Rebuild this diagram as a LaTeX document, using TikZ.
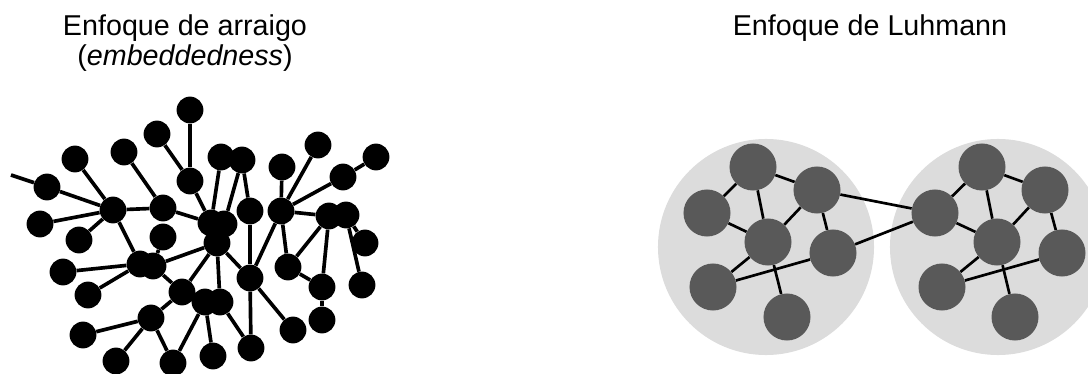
\documentclass[tikz,border=0pt]{standalone}
\usepackage{fontspec}
\setmainfont{Liberation Sans}
\usetikzlibrary{positioning}
\definecolor{luhgray}{HTML}{595959}
\definecolor{haze}{HTML}{DCDCDC}

\begin{document}
\begin{tikzpicture}[
    x=0.025cm, y=-0.025cm,
    dot/.style={circle, fill=black, inner sep=0pt, minimum size=0.67cm},
    blob/.style={circle, fill=luhgray, inner sep=0pt, minimum size=1.175cm},
    system/.style={circle, fill=haze, inner sep=0pt, minimum size=5.4cm},
    tie/.style={line width=2.6pt},
    bond/.style={line width=1.9pt},
    title/.style={font=\fontsize{20.4}{22}\selectfont, anchor=base}
]
\useasboundingbox (0,0) rectangle (1088,374);
\clip (0,0) rectangle (1088,374);

% titles
\node[title] (tarraigo) at (185,36) {Enfoque de arraigo};
\node[title] (tembed) at (185,66) {(\textit{embeddedness})};
\node[title] (tluhmann) at (870,36) {Enfoque de Luhmann};

% embeddedness network
\coordinate (estub) at (11,175);
\node[dot] (e1) at (190,110) {};
\node[dot] (e2) at (157,134) {};
\node[dot] (e3) at (75,159) {};
\node[dot] (e4) at (124,152) {};
\node[dot] (e5) at (47,187) {};
\node[dot] (e6) at (113,210) {};
\node[dot] (e7) at (40,224) {};
\node[dot] (e8) at (190,181) {};
\node[dot] (e9) at (163,208) {};
\node[dot] (e10a) at (221,157) {};
\node[dot] (e10b) at (242,160) {};
\node[dot] (e11) at (250,211) {};
\node[dot] (e12a) at (211,223) {};
\node[dot] (e12b) at (224,224) {};
\node[dot] (e12c) at (217,243) {};
\node[dot] (e13) at (282,167) {};
\node[dot] (e14) at (318,145) {};
\node[dot] (e15) at (376,157) {};
\node[dot] (e16) at (343,177) {};
\node[dot] (e17) at (281,211) {};
\node[dot] (e18a) at (329,216) {};
\node[dot] (e18b) at (346,215) {};
\node[dot] (e20) at (365,243) {};
\node[dot] (e21) at (288,267) {};
\node[dot] (e22) at (322,287) {};
\node[dot] (e23) at (362,285) {};
\node[dot] (e24) at (322,320) {};
\node[dot] (e25) at (293,330) {};
\node[dot] (e26) at (250,278) {};
\node[dot] (e27) at (251,348) {};
\node[dot] (e28a) at (140,264) {};
\node[dot] (e28b) at (153,266) {};
\node[dot] (e29) at (163,237) {};
\node[dot] (e30) at (182,292) {};
\node[dot] (e31a) at (205,302) {};
\node[dot] (e31b) at (220,302) {};
\node[dot] (e32) at (151,318) {};
\node[dot] (e33) at (173,363) {};
\node[dot] (e34) at (213,356) {};
\node[dot] (e36) at (116,361) {};
\node[dot] (e37) at (88,295) {};
\node[dot] (e38) at (79,240) {};
\node[dot] (e39) at (63,272) {};
\node[dot] (e40) at (83,335) {};

\draw[tie] (estub) -- (e5);
\draw[tie] (e5) -- (e6);
\draw[tie] (e3) -- (e6);
\draw[tie] (e7) -- (e6);
\draw[tie] (e38) -- (e6);
\draw[tie] (e6) -- (e9);
\draw[tie] (e6) -- (e28a);
\draw[tie] (e4) -- (e9);
\draw[tie] (e9) -- (e12a);
\draw[tie] (e2) -- (e8);
\draw[tie] (e1) -- (e8);
\draw[tie] (e8) -- (e12a);
\draw[tie] (e10a) -- (e12a);
\draw[tie] (e10b) -- (e12b);
\draw[tie] (e10b) -- (e11);
\draw[tie] (e11) -- (e26);
\draw[tie] (e12c) -- (e28b);
\draw[tie] (e12c) -- (e30);
\draw[tie] (e12c) -- (e31b);
\draw[tie] (e12c) -- (e26);
\draw[tie] (e28a) -- (e39);
\draw[tie] (e28a) -- (e37);
\draw[tie] (e28b) -- (e29);
\draw[tie] (e28b) -- (e30);
\draw[tie] (e30) -- (e32);
\draw[tie] (e32) -- (e40);
\draw[tie] (e32) -- (e36);
\draw[tie] (e32) -- (e33);
\draw[tie] (e31a) -- (e33);
\draw[tie] (e31a) -- (e34);
\draw[tie] (e31b) -- (e27);
\draw[tie] (e26) -- (e27);
\draw[tie] (e26) -- (e25);
\draw[tie] (e17) -- (e26);
\draw[tie] (e17) -- (e21);
\draw[tie] (e13) -- (e17);
\draw[tie] (e14) -- (e17);
\draw[tie] (e16) -- (e17);
\draw[tie] (e15) -- (e16);
\draw[tie] (e17) -- (e18a);
\draw[tie] (e18a) -- (e21);
\draw[tie] (e18a) -- (e22);
\draw[tie] (e21) -- (e22);
\draw[tie] (e22) -- (e24);
\draw[tie] (e18b) -- (e23);
\draw[tie] (e18b) -- (e20);

% Luhmann: two systems
\node[system] (sysa) at (766,247) {};
\node[system] (sysb) at (998,247) {};
\node[blob] (la1) at (753,167) {};
\node[blob] (la2) at (707,213) {};
\node[blob] (la3) at (817,190) {};
\node[blob] (la4) at (768,242) {};
\node[blob] (la5) at (833,253) {};
\node[blob] (la6) at (713,287) {};
\node[blob] (la7) at (787,317) {};
\node[blob] (lb1) at (935,213) {};
\node[blob] (lb2) at (982,167) {};
\node[blob] (lb3) at (1045,190) {};
\node[blob] (lb4) at (997,242) {};
\node[blob] (lb5) at (1062,253) {};
\node[blob] (lb6) at (942,287) {};
\node[blob] (lb7) at (1015,317) {};

\draw[bond] (la2) -- (la1);
\draw[bond] (la1) -- (la3);
\draw[bond] (la1) -- (la4);
\draw[bond] (la2) -- (la4);
\draw[bond] (la4) -- (la3);
\draw[bond] (la3) -- (la5);
\draw[bond] (la4) -- (la6);
\draw[bond] (la4) -- (la7);
\draw[bond] (la6) -- (la5);
\draw[bond] (la3) -- (lb1);
\draw[bond] (la5) -- (lb1);
\draw[bond] (lb1) -- (lb2);
\draw[bond] (lb2) -- (lb3);
\draw[bond] (lb2) -- (lb4);
\draw[bond] (lb1) -- (lb4);
\draw[bond] (lb4) -- (lb3);
\draw[bond] (lb3) -- (lb5);
\draw[bond] (lb4) -- (lb6);
\draw[bond] (lb4) -- (lb7);
\draw[bond] (lb6) -- (lb5);
\end{tikzpicture}
\end{document}
